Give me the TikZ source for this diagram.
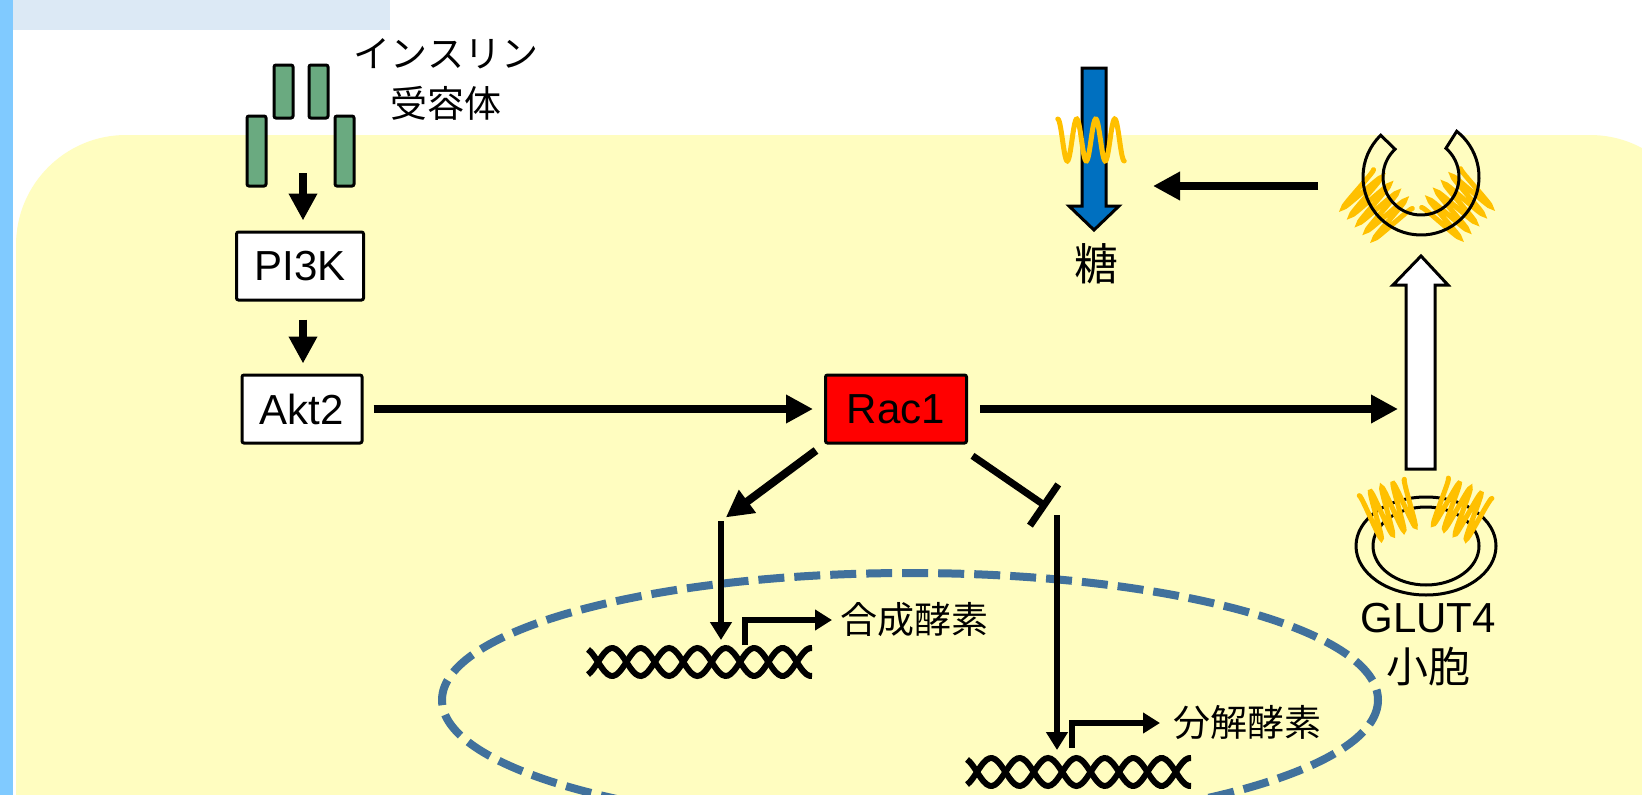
\documentclass[tikz,border=0pt]{standalone}
\usepackage{fontspec}
\setmainfont{Liberation Sans}
\newfontfamily\jp{Noto Sans CJK JP}
\usepackage{tikz}
\usetikzlibrary{calc, arrows.meta, positioning}

\definecolor{cellyellow}{RGB}{255,253,192}
\definecolor{sidebar}{RGB}{128,202,255}
\definecolor{titlebar}{RGB}{220,233,245}
\definecolor{receptor}{RGB}{106,170,128}
\definecolor{nucleus}{RGB}{65,113,156}
\definecolor{glut}{RGB}{255,192,0}
\definecolor{sugar}{RGB}{0,112,192}

\tikzset{
	protein/.style={draw, line width=3pt, rounded corners=2pt, minimum height=68pt, inner sep=0pt, font=\fontsize{42}{50}\selectfont},
	act/.style={line width=8pt, -{Triangle[length=27pt,width=27pt]}},
	gene/.style={line width=6.5pt, -{Triangle[length=18pt,width=21pt]}},
	inhib/.style={line width=7pt, -{Bar[width=50pt]}},
	jplabel/.style={inner sep=0pt, align=center, font=\jp\fontsize{37}{50}\selectfont},
	spring/.style={glut, line width=5pt, line cap=round},
	membrane/.style={line width=3pt},
	strand/.style={line width=6pt},
}

% spring: x, y, rotation, turns, amplitude, pitch
\newcommand{\glutcoil}[6]{%
	\begin{scope}[shift={(#1,#2)}, rotate=#3]
		\draw[spring] plot[smooth, domain=0:#4*360, samples=91] ({\x/360*#6-#4*#6/2}, {-#5*cos(\x)});
	\end{scope}}

% double strand: first crossing x, centre y
\newcommand{\helix}[2]{%
	\foreach \s in {1,-1}
		\draw[strand] plot[smooth, domain=-10:214, samples=81] ({#1+\x}, {#2+\s*14*sin(\x/28.4*180)});}

\begin{document}
\begin{tikzpicture}[x=1pt, y=-1pt]
	\useasboundingbox (0,0) rectangle (1642,795);
	\clip (0,0) rectangle (1642,795);
	\fill[white] (0,0) rectangle (1642,795);
	\fill[sidebar] (0,0) rectangle (13,795);
	\fill[titlebar] (13,0) rectangle (390,30);
	\fill[cellyellow, rounded corners=110pt] (16,135) rectangle (1700,1000);

	% nucleus
	\draw[nucleus, line width=8pt, dash pattern=on 26pt off 10pt] (910,700) ellipse[x radius=468, y radius=127];

	% insulin receptor
	\foreach \x/\y/\h in {274/65/53, 309/65/53, 247/116/70, 335/116/70}
		\draw[membrane, fill=receptor, rounded corners=2pt] (\x,\y) rectangle ++(19,\h);
	\node[jplabel] (insr) at (446,80) {インスリン\\受容体};

	\coordinate (rec) at (303,173);
	\node[protein, minimum width=127pt, fill=white] (pi3k) at (300,266) {PI3K};
	\node[protein, minimum width=120pt, fill=white] (akt) at (302,409) {Akt2};
	\node[protein, minimum width=141pt, fill=red] (rac) at (896,409) {Rac1};

	\draw[act, shorten >=10pt] (rec) -- (rec |- pi3k.north);
	\draw[act, shorten <=18pt, shorten >=10pt] (rec |- pi3k.south) -- (rec |- akt.north);
	\draw[act, shorten <=10pt, shorten >=11pt] (akt) -- (rac);

	% GLUT4 transport
	\coordinate (trans) at (1398,409);
	\draw[act, shorten <=12pt] (rac) -- (trans);
	\draw[membrane, fill=white] (1406,469) -- (1406,285) -- (1393,285) -- (1421,256) -- (1448,285) -- (1435,285) -- (1435,469) -- cycle;

	\draw[membrane] (1426,546) ellipse[x radius=70, y radius=49];
	\draw[membrane] (1426,546) ellipse[x radius=53, y radius=39];
	\glutcoil{1390}{510}{20}{4}{24}{12}
	\glutcoil{1460}{510}{-25}{4}{24}{12}
	\node[align=center, inner sep=0pt, font=\fontsize{42}{50}\selectfont] (glutlab) at (1428,645) {GLUT4\\{\jp 小胞}};

	\coordinate (ves) at (1421,177);
	\glutcoil{1376}{206}{-45}{5}{24}{11}
	\glutcoil{1458}{205}{45}{5}{24}{11}
	\draw[membrane] ([shift={(-134:58)}]ves) arc[start angle=-134, end angle=-412, radius=58]
		-- ([shift={(-409:38)}]ves) arc[start angle=-409, end angle=-133, radius=38] -- cycle;

	\coordinate (fuse) at (1318,186);
	\coordinate (entry) at (1153,186);
	\draw[act] (fuse) -- (entry);

	% glucose uptake
	\draw[membrane, fill=sugar] (1082,68) -- (1082,206) -- (1069,206) -- (1094,230) -- (1119,206) -- (1106,206) -- (1106,68) -- cycle;
	\glutcoil{1091}{140}{0}{3.5}{21}{19}
	\node[jplabel, font=\jp\fontsize{44}{50}\selectfont] (sugarlab) at (1096,264) {糖};

	% gene expression
	\coordinate (bend1) at (721,521);
	\coordinate (site1) at (721,640);
	\coordinate (block) at (1047,507);
	\coordinate (down2) at (1057,515);
	\coordinate (site2) at (1057,750);
	\draw[act, shorten <=10pt, shorten >=6pt] (rac.south west) -- (bend1);
	\draw[gene] (bend1) -- (site1);
	\draw[inhib, shorten <=20pt] ([xshift=-12pt]rac.south east) -- (block);
	\draw[gene] (down2) -- (site2);

	\helix{598}{662}
	\helix{977}{772}
	\node[jplabel, anchor=west] (syn) at (840,620) {合成酵素};
	\node[jplabel, anchor=west] (deg) at (1173,723) {分解酵素};
	\coordinate (tss1) at (745,645);
	\coordinate (tss2) at (1072,748);
	\draw[gene, -{Triangle[length=17pt,width=20pt]}, shorten >=8pt] (tss1) |- (syn.west);
	\draw[gene, -{Triangle[length=17pt,width=20pt]}, shorten >=13pt] (tss2) |- (deg.west);
\end{tikzpicture}
\end{document}
